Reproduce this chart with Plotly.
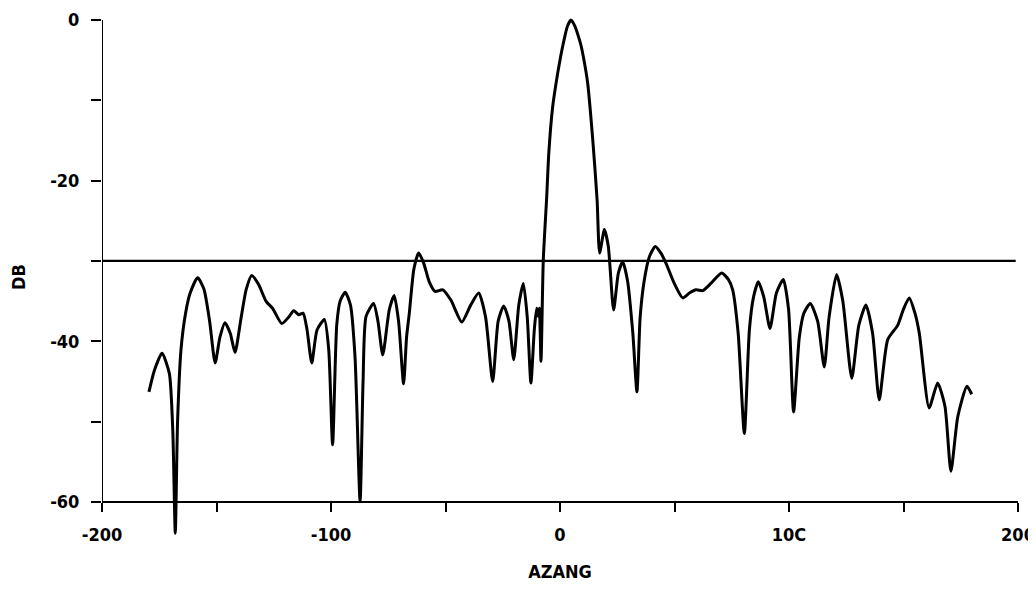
import plotly.graph_objects as go

# Antenna azimuth pattern
azang = [-179.5, -177.1, -173.8, -170.6, -169.1, -168.0, -167.0, -165.5, -163.5, -161.5,
         -158.2, -155.5, -153.0, -150.6, -148.5, -146.3, -144.0, -141.9, -139.5, -137.0,
         -134.6, -131.5, -128.4, -125.5, -121.5, -118.5, -116.3, -114.0, -112.2, -110.5,
         -108.4, -106.1, -102.9, -101.0, -99.3, -97.5, -96.0, -93.8, -91.5, -89.5,
         -87.3, -86.0, -84.7, -81.4, -79.5, -77.4, -74.5, -72.4, -70.5, -68.3,
         -67.0, -65.8, -63.8, -61.7, -59.5, -57.1, -54.5, -51.2, -47.6, -42.9,
         -39.0, -35.5, -32.5, -29.4, -27.0, -24.6, -22.3, -20.2, -18.0, -16.0,
         -14.3, -12.7, -11.2, -10.2, -9.5, -9.0, -8.3, -7.3, -5.8, -4.9,
         -3.2, -1.0, 0.3, 1.6, 3.2, 4.8, 6.4, 8.0, 9.2, 10.6, 12.1, 14.3, 16.2,
         17.3, 19.4, 21.1, 23.4, 25.5, 27.4, 29.5, 31.8, 33.6, 35.0,
         36.8, 39.0, 41.6, 44.0, 46.3, 49.9, 53.6, 56.5, 59.4, 62.3,
         65.9, 70.6, 73.5, 75.4, 77.8, 80.5, 82.7, 84.5, 86.6, 89.0,
         91.7, 94.5, 97.5, 99.8, 102.0, 104.5, 106.5, 109.3, 112.5, 115.4,
         117.5, 120.8, 123.5, 127.4, 130.5, 133.6, 136.5, 139.4, 143.1, 147.5,
         150.0, 152.5, 155.0, 156.9, 161.2, 164.9, 168.1, 170.7, 173.7, 177.7,
         179.8]
db = [-46.3, -43.6, -41.5, -44.0, -51.0, -63.9, -50.0, -41.0, -36.5, -34.0,
      -32.1, -33.5, -37.5, -42.7, -39.5, -37.7, -39.0, -41.4, -37.5, -33.5,
      -31.8, -33.0, -35.0, -35.9, -37.8, -37.0, -36.2, -36.7, -36.5, -38.5,
      -42.7, -38.6, -37.3, -41.0, -52.9, -38.0, -35.0, -33.9, -35.5, -42.0,
      -60.0, -45.0, -36.9, -35.3, -37.5, -41.7, -36.0, -34.3, -37.5, -45.3,
      -39.5, -36.5, -31.0, -29.0, -30.3, -32.6, -33.8, -33.6, -34.9, -37.6,
      -35.5, -34.0, -37.0, -45.0, -37.5, -35.6, -37.5, -42.3, -35.5, -32.8,
      -37.0, -45.2, -38.5, -35.9, -36.9, -35.9, -42.5, -29.9, -22.0, -16.6,
      -10.8, -6.6, -4.5, -2.7, -0.8, 0.0, -0.7, -2.0, -3.2, -5.2, -7.9, -14.9, -22.4,
      -29.0, -26.1, -28.2, -36.1, -31.5, -30.1, -32.5, -39.0, -46.3, -37.0,
      -32.4, -29.5, -28.2, -29.0, -30.3, -32.8, -34.6, -34.0, -33.6, -33.7,
      -32.8, -31.5, -32.3, -33.6, -39.0, -51.5, -38.6, -34.5, -32.6, -34.5,
      -38.4, -34.0, -32.3, -36.0, -48.8, -39.5, -36.5, -35.3, -37.5, -43.2,
      -37.0, -31.7, -35.0, -44.6, -38.0, -35.5, -39.0, -47.3, -39.8, -38.0,
      -36.0, -34.6, -36.5, -39.0, -48.3, -45.2, -48.1, -56.2, -49.4, -45.6,
      -46.6]

# Reference level line
ref_x = [-200, 199]
ref_y = [-30, -30]

# Axis ticks
x_tickvals = [-200, -150, -100, -50, 0, 50, 100, 150, 200]
x_ticktext = ["-200", "", "-100", "", "0", "", "10C", "", "200"]
y_tickvals = [-60, -50, -40, -30, -20, -10, 0]
y_ticktext = ["-60", "", "-40", "", "-20", "", "0"]

Y_MIN, Y_MAX = -65, 1
AXIS_Y = -60

FONT = "DejaVu Sans Condensed, Liberation Sans Narrow, DejaVu Sans, sans-serif"
FS = 18


def tfont(size):
    return dict(family=FONT, size=size, color="black", weight="bold")


fig = go.Figure()
fig.add_trace(go.Scatter(x=ref_x, y=ref_y, mode="lines",
                         line=dict(color="black", width=2.2), hoverinfo="skip"))
fig.add_trace(go.Scatter(x=azang, y=db, mode="lines",
                         line=dict(color="black", width=3, shape="spline", smoothing=0.6)))

# y axis line from -60 to 0
fig.add_shape(type="line", xref="x", yref="y", x0=-200, x1=-200, y0=-60, y1=0,
              line=dict(color="black", width=2))

fig.update_layout(
    width=1036, height=597,
    margin=dict(l=94, r=26, t=4, b=63, autoexpand=False),
    paper_bgcolor="white", plot_bgcolor="white",
    showlegend=False,
    font=dict(family=FONT, size=FS, color="black"),
    xaxis=dict(range=[-200, 200], tickvals=x_tickvals, ticktext=x_ticktext,
               automargin=False,
               showgrid=False, zeroline=False, showline=True, linecolor="black", linewidth=2,
               ticks="outside", ticklen=9, tickwidth=2, tickcolor="black",
               anchor="free", position=(AXIS_Y - Y_MIN) / (Y_MAX - Y_MIN),
               ticklabelstandoff=8,
               tickfont=tfont(FS),
               title=dict(text="AZANG", standoff=20, font=tfont(FS))),
    yaxis=dict(range=[Y_MIN, Y_MAX], tickvals=y_tickvals, ticktext=y_ticktext,
               automargin=False,
               showgrid=False, zeroline=False, showline=False,
               ticks="outside", ticklen=10, tickwidth=2, tickcolor="black",
               ticklabelstandoff=8,
               tickfont=tfont(FS),
               title=dict(text="DB", standoff=26, font=tfont(FS))),
)

fig.write_html("out.html")
